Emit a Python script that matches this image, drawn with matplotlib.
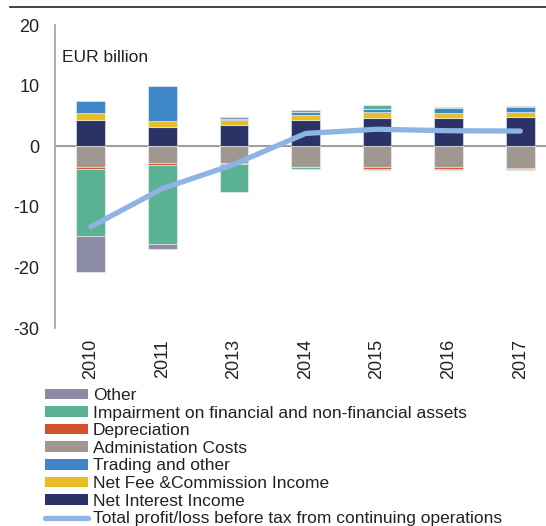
import matplotlib
matplotlib.use("Agg")
import matplotlib.pyplot as plt
import numpy as np
from matplotlib.patches import Patch
from matplotlib.lines import Line2D

plt.rcParams['font.family'] = ['Liberation Sans', 'DejaVu Sans']
plt.rcParams['axes.unicode_minus'] = False

years = ["2010", "2011", "2013", "2014", "2015", "2016", "2017"]
net_interest = [4.35, 3.15, 3.5, 4.3, 4.7, 4.6, 4.85]
net_fee = [1.05, 1.05, 0.85, 0.9, 0.95, 0.95, 0.85]
trading = [2.0, 5.8, 0.15, 0.5, 0.55, 0.7, 0.75]
admin = [-3.5, -2.8, -2.8, -3.35, -3.5, -3.45, -3.55]
depreciation = [-0.3, -0.3, -0.2, -0.1, -0.3, -0.35, -0.25]
impairment = [-11.1, -13.1, -4.55, -0.35, 0.6, 0.25, -0.1]
other = [-5.8, -0.8, 0.3, 0.2, -0.1, -0.1, 0.15]
total = [-13.3, -7.0, -3.0, 2.1, 2.8, 2.55, 2.5]

series = [
    ("Net Interest Income", net_interest, "#2b3266"),
    ("Net Fee &Commission Income", net_fee, "#e5bf25"),
    ("Trading and other", trading, "#3e86c8"),
    ("Administation Costs", admin, "#a09890"),
    ("Depreciation", depreciation, "#d4502c"),
    ("Impairment on financial and non-financial assets", impairment, "#5bb193"),
    ("Other", other, "#8b8ba5"),
]

fig = plt.figure(figsize=(5.46, 5.26), dpi=100)
ax = fig.add_axes([55/546, 1-328/526, 501/546, 303/526])

x = np.arange(len(years))
pos = np.zeros(len(years))
neg = np.zeros(len(years))
for name, vals, col in series:
    v = np.array(vals)
    bottom = np.where(v >= 0, pos, neg)
    ax.bar(x, v, 0.4, bottom=bottom, color=col, edgecolor=(1, 1, 1, 0.45), linewidth=0.8, zorder=2)
    pos = pos + np.where(v >= 0, v, 0)
    neg = neg + np.where(v < 0, v, 0)

ax.plot(x, total, color="#8db4e2", lw=3.8, solid_capstyle="round", solid_joinstyle="round", zorder=3)
ax.axhline(0, color="#a0a0a0", lw=1.5, zorder=1)

ax.set_xlim(-0.5, len(years) - 0.5)
ax.set_ylim(-30, 20)
ax.set_yticks([-30, -20, -10, 0, 10, 20])
ax.set_xticks(x)
ax.set_xticklabels(years, rotation=90, fontsize=13, color="#222222")
ax.tick_params(axis='y', length=0, pad=11, labelsize=13, labelcolor="#222222")
ax.tick_params(axis='x', length=0, pad=8)
for s in ["top", "right", "bottom"]:
    ax.spines[s].set_visible(False)
ax.spines["left"].set_color("#a0a0a0")
ax.spines["left"].set_linewidth(1.2)

ax.text(62/546, 1-58/526, "EUR billion", transform=fig.transFigure, fontsize=12.5,
        va="center", ha="left", color="#222222")

# top rule
fig.add_artist(Line2D([10/546, 1], [1-7/526, 1-7/526], transform=fig.transFigure, color="#222222", lw=1.2))

handles = [Patch(facecolor=c, label=n) for n, _, c in reversed(series)]
handles.append(Line2D([], [], color="#8db4e2", lw=3.8, solid_capstyle="round",
                      label="Total profit/loss before tax from continuing operations"))
leg = fig.legend(handles=handles, loc="upper left", bbox_to_anchor=(45/546, 1-388/526),
                 frameon=False, fontsize=12.5, handlelength=2.5, handleheight=0.55,
                 handletextpad=0.25, labelspacing=0.15, borderaxespad=0, borderpad=0)
for t in leg.get_texts():
    t.set_color("#222222")

fig.savefig("out.png", dpi=100)
